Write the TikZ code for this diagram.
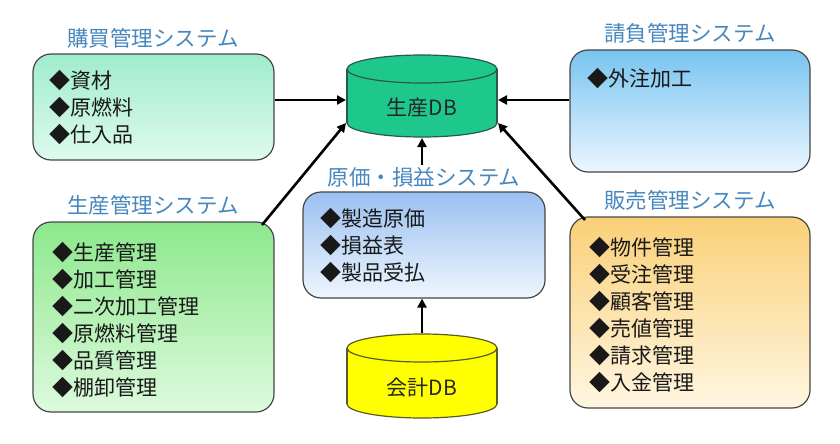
\documentclass[tikz,border=0pt]{standalone}
\usepackage{fontspec}
\setmainfont{Noto Sans CJK JP}
\usetikzlibrary{arrows.meta}
\definecolor{boxline}{RGB}{70,70,70}
\definecolor{titleblue}{RGB}{70,135,190}
\definecolor{buytop}{RGB}{160,236,205}
\definecolor{buybot}{RGB}{222,250,238}
\definecolor{prodtop}{RGB}{140,232,140}
\definecolor{prodbot}{RGB}{222,250,222}
\definecolor{contop}{RGB}{120,196,240}
\definecolor{conbot}{RGB}{236,246,255}
\definecolor{saletop}{RGB}{250,208,120}
\definecolor{salebot}{RGB}{255,246,225}
\definecolor{costtop}{RGB}{155,192,240}
\definecolor{costbot}{RGB}{238,246,255}
\definecolor{dbgreen}{RGB}{30,200,140}
\definecolor{dbline}{RGB}{40,90,70}
\definecolor{dbyellow}{RGB}{255,255,0}
\definecolor{ybline}{RGB}{90,90,40}
\newcommand{\drawcyl}[6]{% cx, top y, bottom y, rx, ry, fill/line prefix
  \fill[#6fill] (#1,#3) ellipse [x radius=#4, y radius=#5];
  \draw[#6line] (#1,#3) ellipse [x radius=#4, y radius=#5];
  \fill[#6fill] (#1-#4,#2) rectangle (#1+#4,#3);
  \draw[#6line] (#1-#4,#2) -- (#1-#4,#3) (#1+#4,#2) -- (#1+#4,#3);
  \fill[#6fill] (#1,#2) ellipse [x radius=#4, y radius=#5];
  \draw[#6line] (#1,#2) ellipse [x radius=#4, y radius=#5];
}
\tikzset{
  greenfill/.style={fill=dbgreen}, greenline/.style={draw=dbline, line width=1.2pt},
  yellowfill/.style={fill=dbyellow}, yellowline/.style={draw=ybline, line width=1.2pt},
}
\begin{document}
\begin{tikzpicture}[x=1pt,y=-1pt,
  sysbox/.style={draw=boxline, line width=1.2pt, rounded corners=18pt, inner sep=0pt},
  systitle/.style={text=titleblue, inner sep=0pt, font=\fontsize{21.5}{24}\selectfont},
  items/.style={anchor=north west, align=left, inner sep=0pt, text=black!90, font=\fontsize{21}{27}\selectfont},
  dbtext/.style={inner sep=0pt, text=black!85, font=\fontsize{21}{24}\selectfont},
  arr/.style={-{Triangle[length=9pt,width=9pt]}, line width=2.6pt}]
\useasboundingbox (0,0) rectangle (840,444);

% boxes
\node[sysbox, minimum width=241pt, minimum height=106pt, top color=buytop, bottom color=buybot] (buy) at (153.5,107) {};
\node[sysbox, minimum width=241pt, minimum height=190pt, top color=prodtop, bottom color=prodbot] (prod) at (153.5,317) {};
\node[sysbox, minimum width=240pt, minimum height=122pt, top color=contop, bottom color=conbot] (con) at (690,111) {};
\node[sysbox, minimum width=240pt, minimum height=191pt, top color=saletop, bottom color=salebot] (sales) at (690,312.5) {};
\node[sysbox, minimum width=242pt, minimum height=106pt, top color=costtop, bottom color=costbot] (cost) at (424,245) {};

% titles
\node[systitle] (buyT) at (153,38) {購買管理システム};
\node[systitle] (prodT) at (153,205) {生産管理システム};
\node[systitle] (conT) at (690,33) {請負管理システム};
\node[systitle] (salesT) at (690,200) {販売管理システム};
\node[systitle] (costT) at (424,177) {原価・損益システム};

% items
\node[items] (buyI) at (49,70) {◆資材\\◆原燃料\\◆仕入品};
\node[items] (prodI) at (52,242) {◆生産管理\\◆加工管理\\◆二次加工管理\\◆原燃料管理\\◆品質管理\\◆棚卸管理};
\node[items] (conI) at (587,68) {◆外注加工};
\node[items] (salesI) at (589,237) {◆物件管理\\◆受注管理\\◆顧客管理\\◆売値管理\\◆請求管理\\◆入金管理};
\node[items] (costI) at (320,208) {◆製造原価\\◆損益表\\◆製品受払};

% databases
\drawcyl{422}{69}{123}{75}{14}{green}
\node[dbtext] (db) at (422,108) {生産DB};
\drawcyl{422}{348}{404}{75}{14}{yellow}
\node[dbtext] (kai) at (422,388) {会計DB};

\coordinate (dbW) at (346,100);
\coordinate (dbE) at (498,100);
\coordinate (dbS) at (422,138);
\coordinate (dbSW) at (346,123);
\coordinate (dbSE) at (498,123);
\coordinate (kaiTop) at (422,333);
\coordinate (prodC) at (262,225);
\coordinate (salesC) at (585,220);

% connectors
\draw[arr] (buy.east |- dbW) -- (dbW);
\draw[arr] (con.west |- dbE) -- (dbE);
\draw[arr] ([yshift=2pt]costT.north -| dbS) -- (dbS);
\draw[arr] (kaiTop) -- (kaiTop |- cost.south);
\draw[arr] (prodC) -- (dbSW);
\draw[arr] (salesC) -- (dbSE);
\end{tikzpicture}
\end{document}
